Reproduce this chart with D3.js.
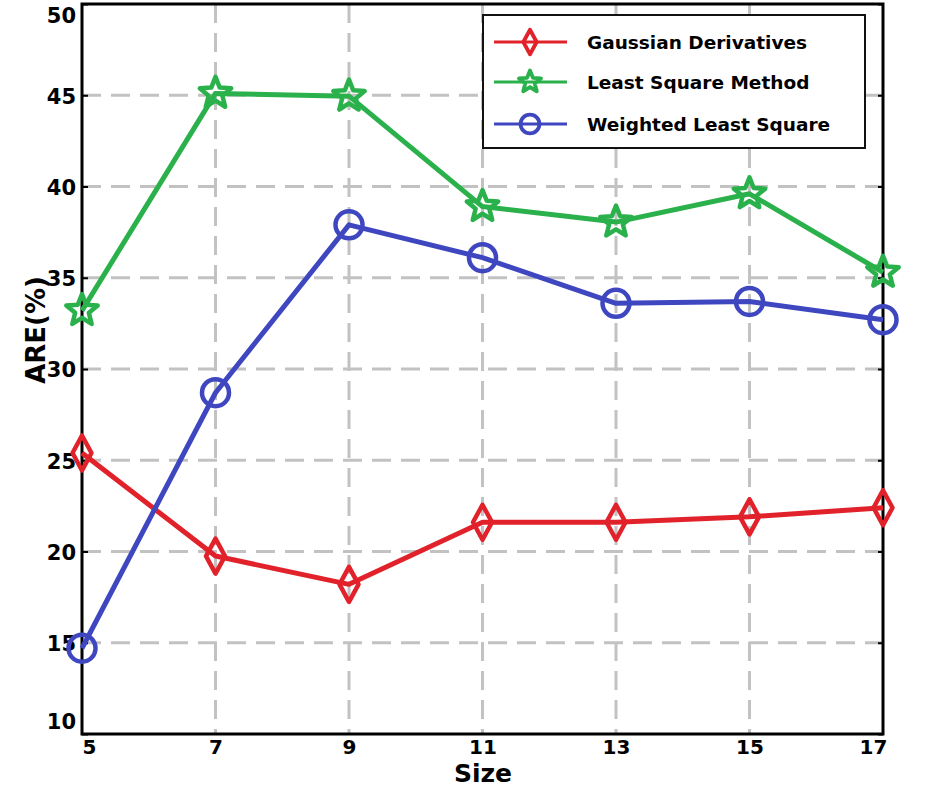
<!DOCTYPE html>
<html>
<head>
<meta charset="utf-8">
<script src="https://cdn.jsdelivr.net/npm/d3@7"></script>
<style>
  body { margin: 0; background: #fff; }
  svg { display: block; }
  text { font-family: "DejaVu Sans", sans-serif; font-weight: bold; fill: #000; }
</style>
</head>
<body>
<svg id="chart" width="929" height="787"></svg>
<script>
// data
const sizes = [5, 7, 9, 11, 13, 15, 17];
const gaussian = [25.4, 19.75, 18.2, 21.6, 21.6, 21.9, 22.4];
const leastSquare = [33.2, 45.1, 44.95, 38.9, 38.05, 39.6, 35.3];
const weighted = [14.7, 28.7, 37.9, 36.1, 33.6, 33.7, 32.7];
const yTicks = [10, 15, 20, 25, 30, 35, 40, 45, 50];
const seriesNames = ["Gaussian Derivatives", "Least Square Method", "Weighted Least Square"];
const seriesColors = ["#e2222b", "#2bb14b", "#3f47c0"];
const seriesMarks = ["diamond", "star", "circle"];

const svg = d3.select("#chart");
const plotLeft = 82, plotRight = 883, plotTop = 4, plotBottom = 734;

const x = d3.scaleLinear().domain([5, 17]).range([plotLeft, plotRight]);
const y = d3.scaleLinear().domain([10, 50]).range([plotBottom, plotTop]);

// marker shapes
function starPath(R, r) {
  let pts = [];
  for (let i = 0; i < 10; i++) {
    let a = -Math.PI / 2 + i * Math.PI / 5;
    let rad = i % 2 == 0 ? R : r;
    pts.push([rad * Math.cos(a), rad * Math.sin(a)]);
  }
  return "M" + pts.map(p => p[0].toFixed(2) + "," + p[1].toFixed(2)).join("L") + "Z";
}
function diamondPath(w, h) {
  return "M0," + (-h) + "L" + w + ",0L0," + h + "L" + (-w) + ",0Z";
}
function drawMark(g, kind, color, scale) {
  let sw = 4.5 * Math.min(1, scale + 0.15);
  if (kind == "diamond") {
    g.append("path").attr("d", diamondPath(9.5 * scale, 17.5 * scale))
      .attr("fill", "none").attr("stroke", color).attr("stroke-width", sw)
      .attr("stroke-linejoin", "round");
  } else if (kind == "star") {
    g.append("path").attr("d", starPath(16.5 * scale, 7.2 * scale))
      .attr("fill", "none").attr("stroke", color).attr("stroke-width", sw)
      .attr("stroke-linejoin", "round");
  } else {
    g.append("circle").attr("r", 13.5 * scale)
      .attr("fill", "none").attr("stroke", color).attr("stroke-width", sw);
  }
}

//#region grid
const grid = svg.append("g").attr("stroke", "#c2c2c2").attr("stroke-width", 3)
  .attr("stroke-dasharray", "19,10");
grid.selectAll("line.h")
  .data(yTicks.filter(d => d > 10 && d < 50))
  .join("line").attr("class", "h")
  .attr("x1", plotLeft).attr("x2", plotRight)
  .attr("y1", d => y(d)).attr("y2", d => y(d));
grid.selectAll("line.v")
  .data(sizes.filter(d => d > 5 && d < 17))
  .join("line").attr("class", "v")
  .attr("y1", plotTop).attr("y2", plotBottom)
  .attr("x1", d => x(d)).attr("x2", d => x(d));
//#endregion

//#region axes and frame
const yAxis = d3.axisLeft(y).tickValues(yTicks).tickSizeInner(-6).tickSizeOuter(0).tickPadding(6);
const gy = svg.append("g").attr("transform", "translate(" + plotLeft + ",0)").call(yAxis);
gy.select(".domain").remove();
gy.selectAll(".tick line").attr("stroke", "#000").attr("stroke-width", 2);
gy.selectAll(".tick text").attr("font-size", 21).attr("dy", "0.38em")
  .attr("y", d => Math.min(Math.max(y(d), 15), 721) - y(d));

const yAxisR = d3.axisRight(y).tickValues(yTicks).tickSizeInner(-5).tickSizeOuter(0).tickFormat("");
const gyr = svg.append("g").attr("transform", "translate(" + plotRight + ",0)").call(yAxisR);
gyr.select(".domain").remove();
gyr.selectAll(".tick line").attr("stroke", "#000").attr("stroke-width", 2);

const xAxis = d3.axisBottom(x).tickValues(sizes).tickSize(0).tickPadding(6);
const gx = svg.append("g").attr("transform", "translate(0," + plotBottom + ")").call(xAxis);
gx.select(".domain").remove();
gx.selectAll(".tick text").attr("font-size", 20)
  .attr("x", d => Math.min(Math.max(x(d), 89), 873) - x(d));

svg.append("rect")
  .attr("x", plotLeft).attr("y", plotTop)
  .attr("width", plotRight - plotLeft).attr("height", plotBottom - plotTop)
  .attr("fill", "none").attr("stroke", "#000").attr("stroke-width", 3);

svg.append("text").attr("transform", "translate(45,330) rotate(-90)")
  .attr("text-anchor", "middle").attr("font-size", 26).text("ARE(%)");
svg.append("text").attr("x", 483).attr("y", 782)
  .attr("text-anchor", "middle").attr("font-size", 25).text("Size");
//#endregion

//#region series
const allSeries = [gaussian, leastSquare, weighted];
const line = d3.line().x((d, i) => x(sizes[i])).y(d => y(d));

allSeries.forEach((vals, k) => {
  svg.append("path").datum(vals)
    .attr("d", line)
    .attr("fill", "none")
    .attr("stroke", seriesColors[k])
    .attr("stroke-width", 5)
    .attr("stroke-linejoin", "round");
  vals.forEach((v, i) => {
    let g = svg.append("g").attr("transform", "translate(" + x(sizes[i]) + "," + y(v) + ")");
    drawMark(g, seriesMarks[k], seriesColors[k], 1);
  });
});
//#endregion

//#region legend
const legend = svg.append("g");
legend.append("rect")
  .attr("x", 483).attr("y", 15).attr("width", 382).attr("height", 133)
  .attr("fill", "#fff").attr("stroke", "#111").attr("stroke-width", 2);
const rowY = [42, 82, 124];
seriesNames.forEach((name, k) => {
  legend.append("line")
    .attr("x1", 494).attr("x2", 567).attr("y1", rowY[k]).attr("y2", rowY[k])
    .attr("stroke", seriesColors[k]).attr("stroke-width", 3);
  let g = legend.append("g").attr("transform", "translate(530," + rowY[k] + ")");
  drawMark(g, seriesMarks[k], seriesColors[k], 0.7);
  legend.append("text").attr("x", 587).attr("y", rowY[k]).attr("dy", "0.36em")
    .attr("font-size", 18.5).text(name);
});
//#endregion
</script>
</body>
</html>
